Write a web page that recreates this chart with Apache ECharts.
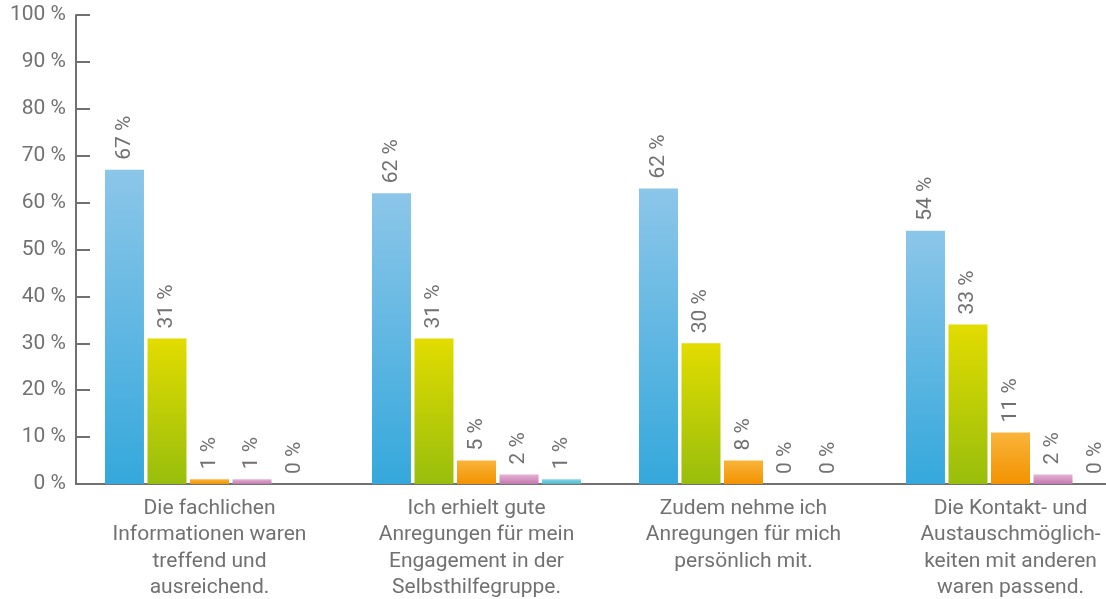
<!DOCTYPE html>
<html>
	<head>
		<meta charset="UTF-8" />
		<title>Bewertung Veranstaltung</title>
		<script src="https://cdn.jsdelivr.net/npm/echarts@6/dist/echarts.min.js"></script>
		<style>
			html, body { margin: 0; padding: 0; background: #fff; }
			#pic { width: 1106px; height: 599px; }
		</style>
	</head>
	<body>
		<div id="pic"></div>
		<script>
			// Kategorien (Aussagen)
			var categories = [
				'Die fachlichen\nInformationen waren\ntreffend und\nausreichend.',
				'Ich erhielt gute\nAnregungen für mein\nEngagement in der\nSelbsthilfegruppe.',
				'Zudem nehme ich\nAnregungen für mich\npersönlich mit.',
				'Die Kontakt- und\nAustauschmöglich-\nkeiten mit anderen\nwaren passend.'
			];
			// Balkenhöhen je Antwortstufe
			var stufe1 = [67, 62, 63, 54];
			var stufe2 = [31, 31, 30, 34];
			var stufe3 = [1, 5, 5, 11];
			var stufe4 = [1, 2, 0, 2];
			var stufe5 = [0, 1, 0, 0];
			// beschriftete Werte (wie in der Vorlage)
			var text1 = [67, 62, 62, 54];
			var text2 = [31, 31, 30, 33];
			var text3 = [1, 5, 8, 11];
			var text4 = [1, 2, 0, 2];
			var text5 = [0, 1, 0, 0];
			var yTicks = [0, 100, 10]; // min, max, interval

			var grau = '#717171';
			var schrift = 'Roboto';

			function verlauf(oben, unten) {
				return new echarts.graphic.LinearGradient(0, 0, 0, 1, [
					{ offset: 0, color: oben },
					{ offset: 1, color: unten }
				]);
			}

			function reihe(name, werte, texte, oben, unten) {
				return {
					name: name,
					type: 'bar',
					barWidth: 39,
					barGap: '9%',
					data: werte,
					itemStyle: { color: verlauf(oben, unten) },
					label: {
						show: true,
						position: 'top',
						rotate: 90,
						align: 'left',
						verticalAlign: 'middle',
						distance: 10,
						color: grau,
						fontFamily: schrift,
						fontSize: 21,
						formatter: function(p) {
							return texte[p.dataIndex] + ' %';
						}
					}
				};
			}

			var myChart = echarts.init(document.getElementById('pic'));
			myChart.setOption({
				animation: false,
				backgroundColor: '#ffffff',
				// rechter Rand liegt absichtlich ausserhalb des Bildes
				grid: { left: 76, right: -38, top: 15, bottom: 115, containLabel: false, outerBoundsMode: 'none' },
				xAxis: {
					type: 'category',
					data: categories,
					axisLine: { lineStyle: { color: grau, width: 2 } },
					axisTick: {
						inside: true,
						length: 12,
						lineStyle: { color: grau, width: 2 },
						interval: function(idx) { return idx >= 2; }
					},
					axisLabel: {
						interval: 0,
						margin: 11,
						color: grau,
						fontFamily: schrift,
						fontSize: 21,
						lineHeight: 26.5,
						align: 'center'
					}
				},
				yAxis: {
					type: 'value',
					min: yTicks[0],
					max: yTicks[1],
					interval: yTicks[2],
					splitLine: { show: false },
					axisLine: { show: true, lineStyle: { color: grau, width: 2 } },
					axisTick: {
						show: true,
						inside: true,
						length: 14,
						lineStyle: { color: grau, width: 2 }
					},
					axisLabel: {
						margin: 10,
						color: grau,
						fontFamily: schrift,
						fontSize: 21,
						formatter: '{value} %'
					}
				},
				series: [
					reihe('1', stufe1, text1, '#8cc6e9', '#35a8dc'),
					reihe('2', stufe2, text2, '#e2dc00', '#98be0c'),
					reihe('3', stufe3, text3, '#f9b43a', '#f39200'),
					reihe('4', stufe4, text4, '#e5b0d4', '#c27aae'),
					reihe('5', stufe5, text5, '#86d3e2', '#4cbad0')
				]
			});
		</script>
	</body>
</html>
